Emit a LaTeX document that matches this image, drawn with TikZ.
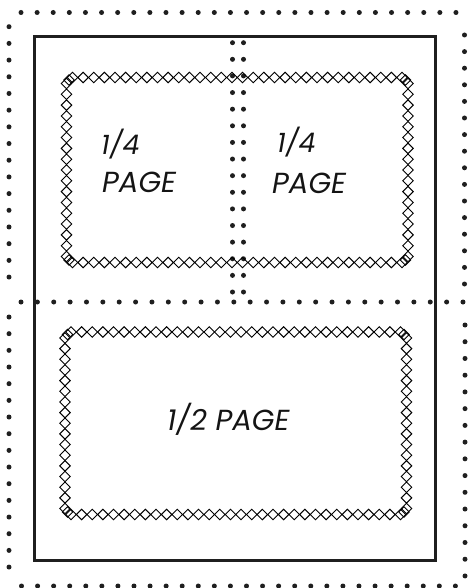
\documentclass[tikz,border=0pt]{standalone}
\usepackage{fontspec}
\setmainfont{Poppins}
\usetikzlibrary{calc}
\newcommand\onediamond[2]{%
  \draw[diamondline] (#1,#2) ++(0,-5.25) -- ++(5.25,5.25) -- ++(-5.25,5.25) -- ++(-5.25,-5.25) -- cycle;}
\newcommand\diamondbox[4]{%
  \pgfmathtruncatemacro\nx{round((#3-#1-12)/10.5)}%
  \pgfmathsetmacro\sx{(#3-#1-12)/\nx}%
  \pgfmathtruncatemacro\ny{round((#4-#2-12)/10.5)}%
  \pgfmathsetmacro\sy{(#4-#2-12)/\ny}%
  \foreach \i in {0,...,\nx} {
    \onediamond{#1+6+\i*\sx}{#2}
    \onediamond{#1+6+\i*\sx}{#4}
  }
  \foreach \j in {0,...,\ny} {
    \onediamond{#1}{#2+6+\j*\sy}
    \onediamond{#3}{#2+6+\j*\sy}
  }
  \onediamond{#1+2.5}{#2+2.5}
  \onediamond{#3-2.5}{#2+2.5}
  \onediamond{#1+2.5}{#4-2.5}
  \onediamond{#3-2.5}{#4-2.5}
}
\begin{document}
\begin{tikzpicture}[x=1pt,y=-1pt,
  dotc/.style={fill=black!88},
  diamondline/.style={draw=black, line width=0.95pt, line join=miter},
  pagebox/.style={draw=black!88, line width=2.6pt},
  lbl/.style={inner sep=0pt, anchor=base west, font=\itshape\fontsize{29}{29}\selectfont, text=black!92},
  frac/.style={lbl, font=\itshape\fontsize{27}{27}\selectfont}]
\useasboundingbox (0,0) rectangle (468,588);
% outer dotted frame
\foreach \i in {0,...,27} \fill[dotc] ({21+\i*16.11},12.5) circle (2.5);
\foreach \i in {0,...,27} \fill[dotc] ({21.5+\i*16.07},586) circle (2.5);
\foreach \i in {0,...,15} \fill[dotc] (9,{26.7+\i*16.69}) circle (2.5);
\foreach \i in {0,...,15} \fill[dotc] (9,{317+\i*16.67}) circle (2.5);
\foreach \i in {0,...,15} \fill[dotc] (464.5,{35+\i*16.6}) circle (2.5);
\foreach \i in {0,...,15} \fill[dotc] (465,{325+\i*16.73}) circle (2.5);
% horizontal dotted divider
\foreach \i in {0,...,27} \fill[dotc] ({21+\i*16.37},302) circle (2.5);
% vertical double dotted divider
\foreach \i in {0,...,15} {
  \fill[dotc] (232.5,{42.7+\i*16.62}) circle (2.5);
  \fill[dotc] (243.5,{42.7+\i*16.62}) circle (2.5);
}
% page outline
\draw[pagebox] (34.7,36.7) rectangle (435.3,560.7);
% diamond borders
\diamondbox{66.5}{77.5}{408}{262.5}
\diamondbox{65}{332}{406.5}{514.5}
% labels
\node[frac] (q1a) at (101,155) {1/4};
\node[lbl]  (q1b) at (102,192) {PAGE};
\node[frac] (q2a) at (277,153) {1/4};
\node[lbl]  (q2b) at (272,193) {PAGE};
\node[lbl]  (half) at (167,430) {1/2 PAGE};
\end{tikzpicture}
\end{document}
